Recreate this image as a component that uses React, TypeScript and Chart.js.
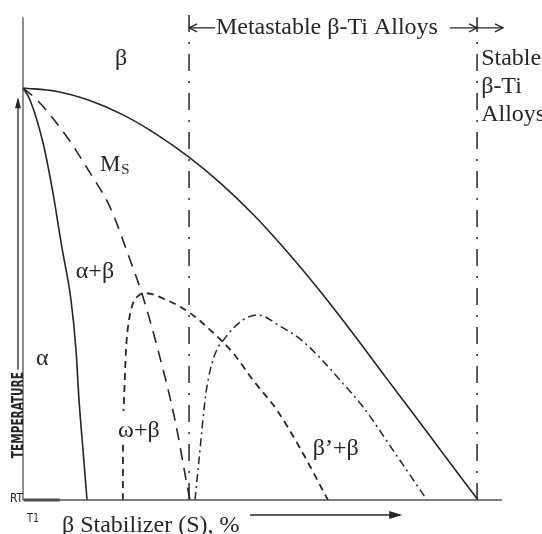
import React, { useEffect, useRef } from "react";
import { Chart, registerables } from "chart.js";

Chart.register(...registerables);

// ---- data (x: β-stabilizer content, arbitrary %, y: temperature, arbitrary units) ----
const betaTransusX = [0, 7.25, 14.51, 21.76, 29.01, 36.26, 43.52, 50.77, 58.02, 65.27, 72.53, 79.78, 87.03, 94.29, 100];
const betaTransusY = [100, 99.2, 97.0, 93.6, 89.0, 83.4, 76.8, 69.1, 60.3, 50.7, 40.4, 29.7, 19.1, 8.4, 0];

const alphaBoundaryX = [0, 1.54, 4.4, 6.59, 8.57, 10.55, 11.65, 12.31, 13.19, 14.07];
const alphaBoundaryY = [100, 97.1, 86.7, 74.5, 61.2, 48.5, 36.4, 24.3, 12.1, 0];

const msX = [0, 3.08, 9.67, 14.73, 19.12, 23.52, 26.37, 29.67, 33.41, 36.26, 36.7];
const msY = [100, 97.1, 88.1, 79.4, 71.1, 58.3, 49.3, 36.4, 19.4, 2.4, 0];

const omegaX = [21.95, 21.98, 22.2, 22.64, 23.08, 24.18, 25.27, 26.81, 31.65, 36.7, 41.1, 46.15, 50.55, 55.82, 60.88, 67.03];
const omegaY = [0, 12.1, 24.3, 36.4, 42.0, 47.8, 49.5, 50.2, 48.5, 45.4, 41.3, 35.7, 29.1, 21.8, 12.6, 0];

const betaPrimeX = [37.8, 38.68, 40.22, 41.98, 44.62, 48.35, 51.65, 56.48, 60.88, 65.27, 69.67, 74.73, 81.32, 88.79];
const betaPrimeY = [0, 9.7, 26.0, 34.7, 39.6, 43.7, 44.9, 42.2, 39.1, 34.5, 29.1, 22.6, 12.1, 0];

// limits between alloy classes
const metastableStartX = 36.5;
const stableStartX = 99.8;
const boundaryTopY = [118.4, 117.2];

// axes
const axisTopY = 117.2;
const baselineEndX = 105.3;
const rtSegmentEndX = 8.1;

// arrows
const tempArrowX = -1.1;
const tempArrowY = [31.6, 97.3];
const topArrowY = 114.6;
const topArrowLeftEndX = 42.2;
const topArrowRightStartX = 93.8;
const topArrowFarEndX = 105.5;
const bottomArrowX = [49.9, 82.9];
const bottomArrowY = -3.64;

// texts
const regionLabels = ["β", "α+β", "α", "ω+β", "β’+β"];
const msLabel = ["M", "S"];
const metastableLabel = "Metastable β-Ti Alloys";
const stableLabel = ["Stable", "β-Ti", "Alloys"];
const xTitle = "β Stabilizer (S), %";
const yTitle = "TEMPERATURE";
const rtLabel = "RT";
const t1Label = "T1";

const zip = (xs: number[], ys: number[]) => xs.map((x, i) => ({ x, y: ys[i] }));

const INK = "#262626";
const SERIF = "'Liberation Serif', 'Times New Roman', serif";

// label anchor positions in data space
const regionLabelPos = [
  { x: 20.2, y: 105.6 },
  { x: 11.6, y: 53.9 },
  { x: 2.86, y: 32.8 },
  { x: 20.9, y: 15.3 },
  { x: 63.7, y: 10.9 },
];

export default function App() {
  const ref = useRef<HTMLCanvasElement | null>(null);

  useEffect(() => {
    const canvas = ref.current;
    if (!canvas) return;

    const annot = {
      id: "annot",
      afterDatasetsDraw(chart: any) {
        const ctx: CanvasRenderingContext2D = chart.ctx;
        const sx = (v: number) => chart.scales.x.getPixelForValue(v);
        const sy = (v: number) => chart.scales.y.getPixelForValue(v);
        ctx.save();
        ctx.fillStyle = INK;
        ctx.strokeStyle = INK;

        const filled = (x: number, y: number, dir: "up" | "right", len: number, half: number) => {
          ctx.beginPath();
          if (dir === "up") {
            ctx.moveTo(x, y);
            ctx.lineTo(x - half, y + len);
            ctx.lineTo(x + half, y + len);
          } else {
            ctx.moveTo(x, y);
            ctx.lineTo(x - len, y - half);
            ctx.lineTo(x - len, y + half);
          }
          ctx.closePath();
          ctx.fill();
        };
        const open = (x: number, y: number, dir: 1 | -1) => {
          ctx.beginPath();
          ctx.lineWidth = 1.3;
          ctx.moveTo(x - dir * 8, y - 4);
          ctx.lineTo(x, y);
          ctx.lineTo(x - dir * 8, y + 4);
          ctx.stroke();
        };
        filled(sx(tempArrowX), sy(tempArrowY[1]) - 2, "up", 11, 3);
        filled(sx(bottomArrowX[1]) + 2, sy(bottomArrowY), "right", 13, 4);
        open(sx(metastableStartX), sy(topArrowY), -1);
        open(sx(stableStartX), sy(topArrowY), 1);
        open(sx(topArrowFarEndX), sy(topArrowY), 1);

        ctx.textBaseline = "alphabetic";
        ctx.textAlign = "left";

        regionLabels.forEach((t, i) => {
          const p = regionLabelPos[i];
          ctx.font = `24px ${SERIF}`;
          const x = sx(p.x);
          const y = sy(p.y);
          if (i === 3) {
            const w = ctx.measureText(t).width;
            ctx.fillStyle = "#ffffff";
            ctx.fillRect(x - 2, y - 26, w + 4, 32);
            ctx.fillStyle = INK;
          }
          ctx.fillText(t, x, y);
        });

        ctx.font = `23px ${SERIF}`;
        const mx = sx(16.9);
        const my = sy(79.9);
        ctx.fillText(msLabel[0], mx, my);
        const mw = ctx.measureText(msLabel[0]).width;
        ctx.font = `15px ${SERIF}`;
        ctx.fillText(msLabel[1], mx + mw + 1, my + 3);

        ctx.font = `24px ${SERIF}`;
        ctx.fillText(metastableLabel, sx(42.4), sy(113.1));
        const stableY = [105.6, 98.8, 92.0];
        stableLabel.forEach((t, i) => ctx.fillText(t, sx(100.7), sy(stableY[i])));

        ctx.fillText(xTitle, sx(8.57), sy(-7.77));

        ctx.save();
        ctx.translate(sx(-0.88), sy(20.6));
        ctx.rotate(-Math.PI / 2);
        ctx.font = `bold 15px 'DejaVu Sans Condensed', 'DejaVu Sans', sans-serif`;
        const tw = ctx.measureText(yTitle).width;
        ctx.scale(86 / tw, 1);
        ctx.textAlign = "center";
        ctx.textBaseline = "middle";
        ctx.fillText(yTitle, 0, 0);
        ctx.restore();

        const small = (t: string, x: number, y: number, w: number) => {
          ctx.save();
          ctx.font = `13px 'DejaVu Sans Condensed', 'DejaVu Sans', sans-serif`;
          const mw2 = ctx.measureText(t).width;
          ctx.translate(x, y);
          ctx.scale(w / mw2, 1);
          ctx.fillText(t, 0, 0);
          ctx.restore();
        };
        small(rtLabel, sx(-2.86), sy(-0.49), 13);
        small(t1Label, sx(0.88), sy(-5.34), 12);

        ctx.restore();
      },
    };

    const curve = (data: any[], w = 1.5) => ({
      data,
      showLine: true,
      borderColor: INK,
      borderWidth: w,
      pointRadius: 0,
      cubicInterpolationMode: "monotone" as const,
      fill: false,
    });
    const straight = (data: any[], w = 1.3) => ({
      data,
      showLine: true,
      borderColor: INK,
      borderWidth: w,
      pointRadius: 0,
      tension: 0,
      fill: false,
    });

    const chart = new Chart(canvas, {
      type: "scatter",
      data: {
        datasets: [
          { ...straight(zip([0, 0], [0, axisTopY]), 1.2), borderColor: "#444" },
          { ...straight(zip([0, baselineEndX], [0, 0]), 1.4), borderColor: "#555" },
          { ...straight(zip([0.2, rtSegmentEndX], [0, 0]), 3), borderColor: "#444" },
          straight(zip([tempArrowX, tempArrowX], tempArrowY), 1.3),
          curve(zip(betaTransusX, betaTransusY), 1.6),
          curve(zip(alphaBoundaryX, alphaBoundaryY), 1.6),
          { ...curve(zip(msX, msY), 1.6), borderDash: [12, 8] },
          { ...curve(zip(omegaX, omegaY), 1.8), borderDash: [7, 5] },
          { ...curve(zip(betaPrimeX, betaPrimeY), 1.5), borderDash: [8, 4, 2, 4] },
          {
            ...straight(zip([metastableStartX, metastableStartX], [0, boundaryTopY[0]]), 1.5),
            borderDash: [17, 10, 2, 10],
          },
          {
            ...straight(zip([stableStartX, stableStartX], [0, boundaryTopY[1]]), 1.5),
            borderDash: [17, 10, 2, 10],
          },
          straight(zip([metastableStartX, topArrowLeftEndX], [topArrowY, topArrowY]), 1.3),
          straight(zip([topArrowRightStartX, topArrowFarEndX], [topArrowY, topArrowY]), 1.3),
          straight(zip(bottomArrowX, [bottomArrowY, bottomArrowY]), 1.6),
        ],
      },
      options: {
        animation: false,
        responsive: false,
        events: [],
        layout: { padding: 0 },
        plugins: { legend: { display: false }, tooltip: { enabled: false }, title: { display: false } },
        scales: {
          x: { type: "linear", min: -5.055, max: 114.07, display: false },
          y: { type: "linear", min: -8.25, max: 121.36, display: false },
        },
      },
      plugins: [annot],
    });

    return () => chart.destroy();
  }, []);

  return (
    <div style={{ position: "absolute", left: 0, top: 0, width: 542, height: 534, background: "#fff" }}>
      <canvas ref={ref} width={542} height={534} style={{ width: 542, height: 534, display: "block" }} />
    </div>
  );
}
